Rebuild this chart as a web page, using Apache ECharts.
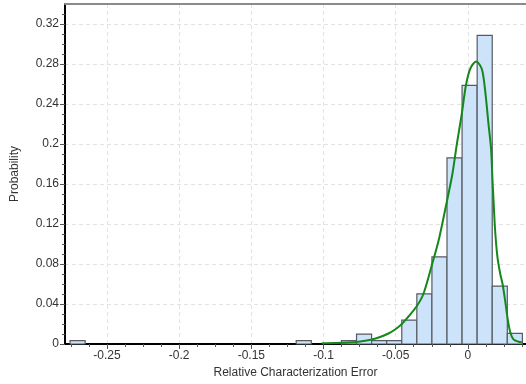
<!DOCTYPE html>
<html>
<head>
<meta charset="utf-8">
<script src="https://cdn.jsdelivr.net/npm/echarts@6/dist/echarts.min.js"></script>
<style>
  html, body { margin: 0; padding: 0; background: #fff; }
  #chart { width: 526px; height: 384px; }
</style>
</head>
<body>
<div id="chart"></div>
<script>
// Histogram: 30 equal-width bins over the observed error range
const binStart = -0.2756;
const binEnd = 0.0378;
const binProb = [
  0.0033, 0, 0, 0, 0, 0, 0, 0, 0, 0,
  0, 0, 0, 0, 0, 0.0033, 0, 0, 0.0033, 0.0099,
  0.0033, 0.0033, 0.0239, 0.0502, 0.0871, 0.1862, 0.2587, 0.3086, 0.0579, 0.0107
];

// Fitted distribution, scaled to probability per bin
const fitX = [
  -0.1012, -0.0920, -0.0827, -0.0746, -0.0665, -0.0608, -0.0550, -0.0504, -0.0457, -0.0414,
  -0.0353, -0.0308, -0.0249, -0.0200, -0.0146, -0.0107, -0.0076, -0.0042, -0.0014, 0.0016,
  0.0058, 0.0097, 0.0120, 0.0143, 0.0161, 0.0171, 0.0178, 0.0189, 0.0205, 0.0224,
  0.0240, 0.0258, 0.0274, 0.0293, 0.0316, 0.0351, 0.0374
];
const fitY = [
  0.0008, 0.0010, 0.0015, 0.0026, 0.0045, 0.0070, 0.0105, 0.0145, 0.0200, 0.0270,
  0.0380, 0.0500, 0.0790, 0.1050, 0.1420, 0.1700, 0.2000, 0.2300, 0.2580, 0.2750,
  0.2826, 0.2750, 0.2534, 0.2202, 0.1950, 0.1636, 0.1436, 0.1137, 0.0871, 0.0705,
  0.0605, 0.0439, 0.0272, 0.0123, 0.0047, 0.0023, 0.0017
];

// Axis ticks
const xTicks = [-0.25, -0.2, -0.15, -0.1, -0.05, 0];
const xMinorTicks = [
  -0.275, -0.2625, -0.2375, -0.225, -0.2125, -0.1875, -0.175, -0.1625,
  -0.1375, -0.125, -0.1125, -0.0875, -0.075, -0.0625, -0.0375, -0.025,
  -0.0125, 0.0125, 0.025, 0.0375
];
const yTicks = [0, 0.04, 0.08, 0.12, 0.16, 0.2, 0.24, 0.28, 0.32];
const yMinorTicks = [
  0.01, 0.02, 0.03, 0.05, 0.06, 0.07, 0.09, 0.10, 0.11, 0.13, 0.14, 0.15,
  0.17, 0.18, 0.19, 0.21, 0.22, 0.23, 0.25, 0.26, 0.27, 0.29, 0.30, 0.31, 0.33
];

const xMin = -0.2791, xMax = 0.0403;
const yMin = 0, yMax = 0.34;

const binWidth = (binEnd - binStart) / binProb.length;
const barData = [];
binProb.forEach((p, i) => {
  if (p > 0) barData.push([binStart + i * binWidth, binStart + (i + 1) * binWidth, p]);
});
const curveData = fitX.map((x, i) => [x, fitY[i]]);

const labelFont = { fontFamily: 'Liberation Sans, Arial, sans-serif', fontSize: 12, color: '#333' };
const gridLine = { show: true, lineStyle: { color: '#e3e3e3', type: [4, 3], width: 1 } };

const chart = echarts.init(document.getElementById('chart'), null, { renderer: 'canvas' });
chart.setOption({
  animation: false,
  backgroundColor: '#fff',
  grid: { left: 65, right: 0, top: 4, bottom: 40, containLabel: false },
  xAxis: [
    {
      type: 'value', min: xMin, max: xMax, position: 'bottom',
      name: 'Relative Characterization Error', nameLocation: 'middle', nameGap: 20,
      nameTextStyle: labelFont,
      axisLine: { show: true, onZero: false, lineStyle: { color: '#000', width: 2 } },
      axisTick: { show: true, customValues: xTicks, length: 5, lineStyle: { color: '#555' } },
      axisLabel: Object.assign({ customValues: xTicks, margin: 6 }, labelFont),
      splitLine: gridLine
    },
    {
      type: 'value', min: xMin, max: xMax, position: 'bottom',
      axisLine: { show: false, onZero: false },
      axisTick: { show: true, customValues: xMinorTicks, length: 3, lineStyle: { color: '#555' } },
      axisLabel: { show: false },
      splitLine: { show: false }
    },
    {
      type: 'value', min: xMin, max: xMax, position: 'top',
      axisLine: { show: true, onZero: false, lineStyle: { color: '#8a8a8a', width: 2 } },
      axisTick: { show: false }, axisLabel: { show: false }, splitLine: { show: false }
    }
  ],
  yAxis: [
    {
      type: 'value', min: yMin, max: yMax, position: 'left',
      name: 'Probability', nameLocation: 'middle', nameGap: 44,
      nameTextStyle: labelFont,
      axisLine: { show: true, onZero: false, lineStyle: { color: '#000', width: 2 } },
      axisTick: { show: true, customValues: yTicks, length: 5, lineStyle: { color: '#555' } },
      axisLabel: Object.assign({ customValues: yTicks, margin: 6 }, labelFont),
      splitLine: gridLine
    },
    {
      type: 'value', min: yMin, max: yMax, position: 'left',
      axisLine: { show: false, onZero: false },
      axisTick: { show: true, customValues: yMinorTicks, length: 3, lineStyle: { color: '#555' } },
      axisLabel: { show: false },
      splitLine: { show: false }
    }
  ],
  series: [
    {
      type: 'custom',
      xAxisIndex: 0, yAxisIndex: 0,
      encode: { x: [0, 1], y: 2 },
      data: barData,
      renderItem: function (params, api) {
        const topLeft = api.coord([api.value(0), api.value(2)]);
        const bottomRight = api.coord([api.value(1), 0]);
        return {
          type: 'rect',
          shape: {
            x: topLeft[0], y: topLeft[1],
            width: bottomRight[0] - topLeft[0],
            height: bottomRight[1] - topLeft[1]
          },
          style: { fill: '#cce3f9', stroke: '#565b62', lineWidth: 1.2 }
        };
      },
      z: 2
    },
    {
      type: 'line',
      xAxisIndex: 0, yAxisIndex: 0,
      data: curveData,
      smooth: 0.3,
      showSymbol: false,
      lineStyle: { color: '#14881a', width: 2 },
      z: 3
    }
  ]
});
</script>
</body>
</html>
